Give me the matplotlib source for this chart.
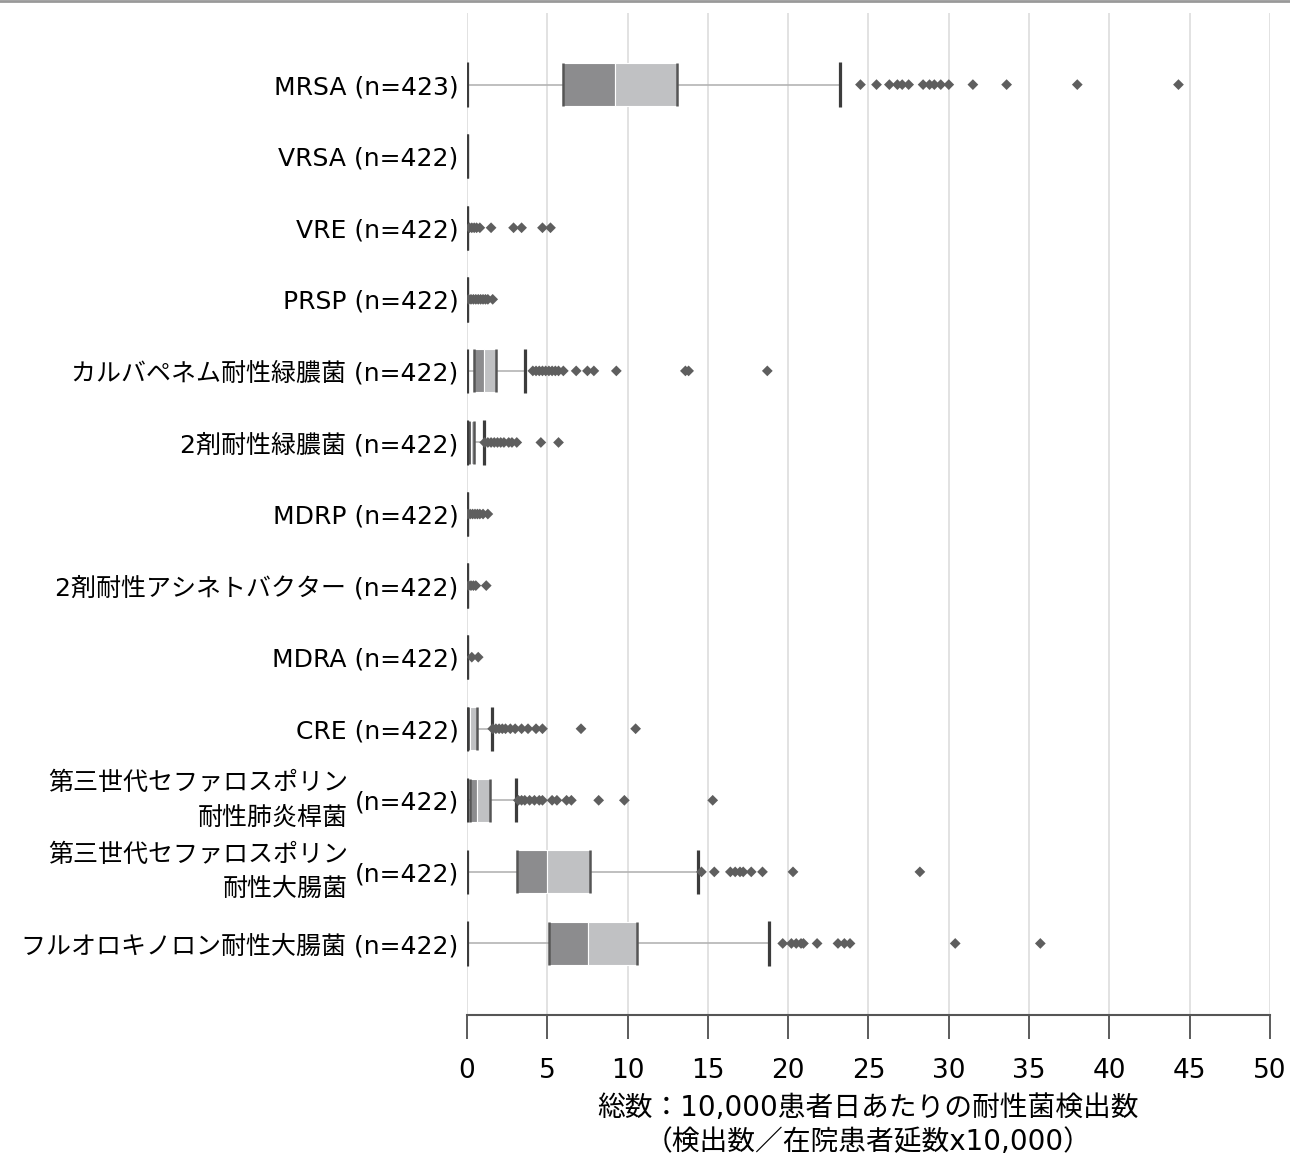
import matplotlib.pyplot as plt
import matplotlib.transforms as mtransforms
from matplotlib.lines import Line2D

plt.rcParams['font.family'] = ['DejaVu Sans', 'Noto Sans CJK JP']

# 菌名と件数
names = ["MRSA", "VRSA", "VRE", "PRSP", "カルバペネム耐性緑膿菌", "2剤耐性緑膿菌", "MDRP",
         "2剤耐性アシネトバクター", "MDRA", "CRE",
         "第三世代セファロスポリン\n耐性肺炎桿菌", "第三世代セファロスポリン\n耐性大腸菌",
         "フルオロキノロン耐性大腸菌"]
n_values = [423, 422, 422, 422, 422, 422, 422, 422, 422, 422, 422, 422, 422]

# 箱ひげ図の統計量（最小値は全て0）
q1 = [6.0, 0, 0, 0, 0.43, 0.12, 0, 0, 0, 0.08, 0.2, 3.13, 5.09]
median = [9.2, 0, 0, 0, 1.06, 0.25, 0, 0, 0, 0.2, 0.6, 4.96, 7.51]
q3 = [13.1, 0, 0, 0, 1.8, 0.45, 0, 0, 0, 0.65, 1.43, 7.66, 10.59]
whisker_hi = [23.2, 0, 0, 0, 3.63, 1.06, 0, 0, 0, 1.56, 3.05, 14.4, 18.8]

outliers = [
    [24.5, 25.5, 26.3, 26.8, 27.1, 27.5, 28.4, 28.8, 29.1, 29.5, 30.0, 31.5, 33.6, 38.0, 44.3],
    [],
    [0.15, 0.3, 0.45, 0.6, 0.8, 1.5, 2.9, 3.4, 4.7, 5.2],
    [0.1, 0.25, 0.4, 0.55, 0.7, 0.85, 1.0, 1.15, 1.3, 1.6],
    [4.1, 4.3, 4.5, 4.7, 4.9, 5.1, 5.3, 5.5, 5.7, 6.0, 6.8, 7.5, 7.9, 9.3, 13.6, 13.8, 18.7],
    [1.1, 1.3, 1.5, 1.7, 1.9, 2.1, 2.3, 2.6, 2.8, 3.1, 4.6, 5.7],
    [0.05, 0.2, 0.35, 0.5, 0.65, 0.8, 1.0, 1.3],
    [0.1, 0.25, 0.4, 0.55, 1.2],
    [0.3, 0.7],
    [1.6, 1.8, 2.0, 2.2, 2.4, 2.7, 3.0, 3.4, 3.8, 4.3, 4.7, 7.1, 10.5],
    [3.2, 3.4, 3.6, 3.9, 4.2, 4.5, 4.7, 5.3, 5.6, 6.2, 6.5, 8.2, 9.8, 15.3],
    [14.6, 15.4, 16.4, 16.7, 17.0, 17.2, 17.7, 18.4, 20.3, 28.2],
    [19.66, 20.2, 20.5, 20.8, 20.95, 21.8, 23.1, 23.5, 23.85, 30.4, 35.7],
]

xticks = [0, 5, 10, 15, 20, 25, 30, 35, 40, 45, 50]

dark_fill = "#8c8c8e"
light_fill = "#c0c1c3"
edge = "#3c3c3c"
whisk = "#b4b4b4"
pt_col = "#5e5e5e"
fs = 18

fig = plt.figure(figsize=(12.9, 11.55), dpi=100)
ax = fig.add_axes([0.362, 0.1212, 0.6225, 0.8675])

rows = list(range(len(names)))
h = 0.6
for i in rows:
    # ひげ
    ax.hlines(i, 0, q1[i], color=whisk, lw=1.2, zorder=2)
    ax.hlines(i, q3[i], whisker_hi[i], color=whisk, lw=1.2, zorder=2)
    # 箱
    ax.barh(i, median[i] - q1[i], left=q1[i], height=h, color=dark_fill,
            edgecolor="white", lw=0.8, zorder=3)
    ax.barh(i, q3[i] - median[i], left=median[i], height=h, color=light_fill,
            edgecolor="white", lw=0.8, zorder=3)
    if q3[i] > 0:
        ax.vlines([q1[i], q3[i]], i - h / 2, i + h / 2, color="#555555", lw=1.8, zorder=4)
    # 端
    ax.vlines([0, whisker_hi[i]], i - 0.31, i + 0.31, color=edge, lw=2.3, zorder=5)
    # 外れ値
    if outliers[i]:
        ax.scatter(outliers[i], [i] * len(outliers[i]), marker="D", s=30,
                   color=pt_col, edgecolors="none", zorder=6)

ax.set_xlim(0, 50)
ax.set_ylim(13, -1)
ax.set_xticks(xticks)
ax.set_xticklabels([str(t) for t in xticks], fontsize=fs + 1)
ax.tick_params(axis="x", direction="out", length=17, width=1.2, color="#404040", pad=14)
ax.grid(axis="x", color="#dddddd", lw=1.2, zorder=0)
ax.set_axisbelow(True)

ylabels = []
for nm, n in zip(names, n_values):
    if "\n" in nm:
        ylabels.append(f"(n={n})")
    else:
        ylabels.append(f"{nm} (n={n})")
ax.set_yticks(rows)
ax.set_yticklabels(ylabels, fontsize=fs)
ax.tick_params(axis="y", length=0, pad=6)

trans = mtransforms.blended_transform_factory(ax.transAxes, ax.transData)
for i, nm in enumerate(names):
    if "\n" in nm:
        ax.annotate(nm, xy=(0, i), xycoords=trans, xytext=(-119, 0),
                    textcoords="offset pixels", ha="right", va="center",
                    fontsize=fs, multialignment="right", linespacing=1.55)

for s in ["top", "right", "left"]:
    ax.spines[s].set_visible(False)
ax.spines["bottom"].set_color("#555555")
ax.spines["bottom"].set_linewidth(1.5)

ax.set_xlabel("総数：10,000患者日あたりの耐性菌検出数\n（検出数／在院患者延数x10,000）",
              fontsize=fs + 2, linespacing=1.3, labelpad=7)

fig.add_artist(Line2D([0, 1], [0.999, 0.999], color="#999999", lw=2,
                      transform=fig.transFigure))

fig.savefig("out.png", dpi=100)
